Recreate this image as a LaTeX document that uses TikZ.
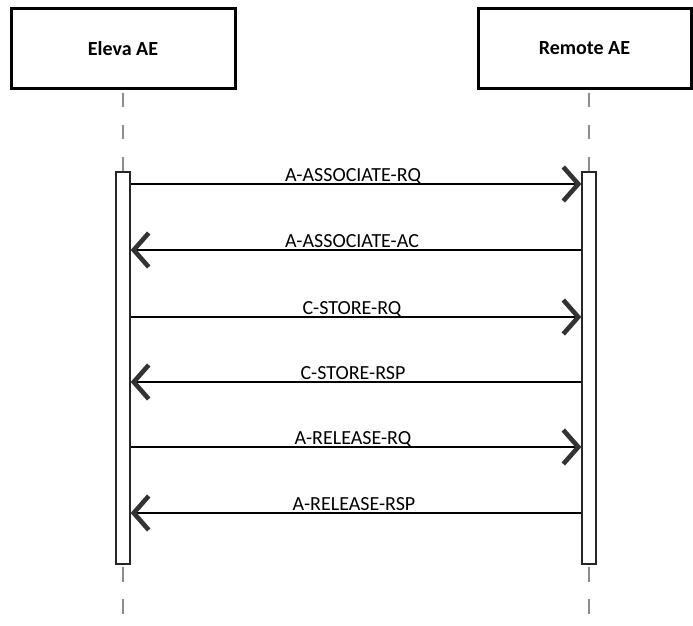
\documentclass[tikz,border=0pt]{standalone}
\usepackage{fontspec}
\setmainfont{Carlito}
\usetikzlibrary{arrows.meta}
\tikzset{
  actor/.style={draw=black, line width=3pt, fill=white, minimum width=224pt, minimum height=79pt, inner sep=0pt, font=\fontsize{20}{24}\selectfont\bfseries},
  actbox/.style={draw=black!85, line width=1.3pt, fill=white, minimum width=14pt, inner sep=0pt},
  lifeline/.style={draw=black!45, line width=1.6pt},
  msg/.style={line width=2.6pt, -{Straight Barb[length=15pt, width=34pt, line width=4.6pt, line cap=butt, line join=miter, color=black!80]}},
  lbl/.style={font=\fontsize{20}{24}\selectfont, anchor=base, inner sep=0pt}
}
\begin{document}
\begin{tikzpicture}[x=1pt, y=-1pt]
\useasboundingbox (0,0) rectangle (693,626);
% actors
\node[actor] (L) at (123,48.5) {Eleva AE};
\node[actor, minimum width=213pt] (R) at (584.5,48.5) {Remote AE};
% lifeline end points
\coordinate (Lt) at (123,93);
\coordinate (Rt) at (589,93);
\coordinate (Lb1) at (123,567);
\coordinate (Lb2) at (123,614);
\coordinate (Rb1) at (589,567);
\coordinate (Rb2) at (589,614);
\node[actbox, minimum height=392pt] (aL) at (123,368) {};
\node[actbox, minimum height=392pt] (aR) at (589,368) {};
\draw[lifeline, dash pattern=on 14pt off 18pt] (Lt) -- (aL.north);
\draw[lifeline, dash pattern=on 14pt off 18pt] (Rt) -- (aR.north);
\draw[lifeline, dash pattern=on 15pt off 17pt] (Lb1) -- (Lb2);
\draw[lifeline, dash pattern=on 15pt off 17pt] (Rb1) -- (Rb2);
% messages
\draw[msg] (aL.east |- 0,184) -- (aR.west |- 0,184);
\node[lbl] (m1) at (353,181) {A-ASSOCIATE-RQ};
\draw[msg] (aR.west |- 0,250) -- (aL.east |- 0,250);
\node[lbl] (m2) at (352,247) {A-ASSOCIATE-AC};
\draw[msg] (aL.east |- 0,317) -- (aR.west |- 0,317);
\node[lbl] (m3) at (352,314) {C-STORE-RQ};
\draw[msg] (aR.west |- 0,382) -- (aL.east |- 0,382);
\node[lbl] (m4) at (353,379) {C-STORE-RSP};
\draw[msg] (aL.east |- 0,447) -- (aR.west |- 0,447);
\node[lbl] (m5) at (353,444) {A-RELEASE-RQ};
\draw[msg] (aR.west |- 0,513) -- (aL.east |- 0,513);
\node[lbl] (m6) at (354,510) {A-RELEASE-RSP};
\end{tikzpicture}
\end{document}
